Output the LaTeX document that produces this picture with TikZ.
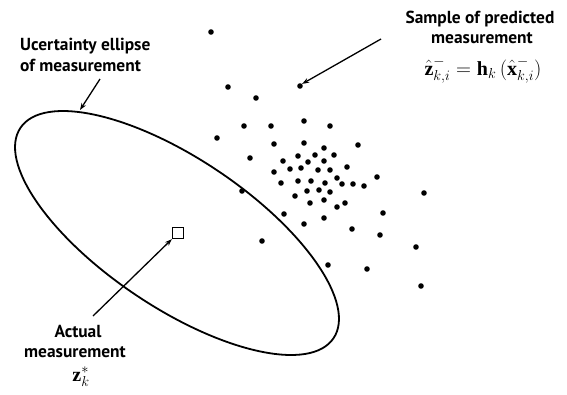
\documentclass[tikz,border=0pt]{standalone}
\usepackage{fontspec}
\newfontfamily\lblfont{PT Sans}
\newfontfamily\tmsfont{Liberation Serif}
\newcommand\tbf[1]{\mbox{\tmsfont\bfseries #1}}
\usetikzlibrary{arrows.meta}
\begin{document}
\begin{tikzpicture}[x=1pt,y=-1pt,
  dot/.style={circle,fill=black,inner sep=0pt,minimum size=5.6pt},
  lbl/.style={font=\lblfont\fontsize{17.4}{20}\selectfont\bfseries,inner sep=0pt},
  mth/.style={font=\fontsize{20}{22}\selectfont,inner sep=0pt},
  arr/.style={line width=1.3pt,-{Stealth[length=7pt,width=5pt]}},
  curve/.style={line width=1.8pt}]
\useasboundingbox (0,0) rectangle (567,394);
% ellipse
\draw[curve,rotate around={-33.9:(177,233)}] (177,233) ellipse [x radius=188.6pt,y radius=74.4pt];
\node[draw,line width=1.3pt,minimum size=11pt,inner sep=0pt] (zs) at (178,233) {};
% dots
\foreach \p [count=\i] in {(211,32),(228,87),(256,98),(244,126),(271,126),(304,121),(330,126),(217,138),(274,144),(304,143),(358,145),(250,158),(324,148),(298,156),(315,155),(334,155),(283,161),(308,162),(324,161),(274,172),(290,169),(301,168),(318,170),(330,170),(347,167),(377,177),(281,183),(298,181),(311,181),(325,183),(337,178),(342,184),(353,184),(364,186),(424,193),(242,191),(307,191),(319,190),(330,192),(295,196),(310,203),(324,200),(337,207),(345,203),(383,213),(284,214),(304,224),(324,218),(352,229),(380,235),(262,241),(416,247),(328,265),(367,269),(421,286)}
  \node[dot] (d\i) at \p {};
\node[dot] (s) at (300,86) {};
% labels
\node[lbl,anchor=base west] (u1) at (20,50) {Ucertainty ellipse};
\node[lbl,anchor=base west] (u2) at (20,71) {of measurement};
\node[lbl,anchor=base] (p1) at (480,23) {Sample of predicted};
\node[lbl,anchor=base] (p2) at (482,43) {measurement};
\node[mth,anchor=base] (p3) at (483,75) {$\hat{\tbf{z}}^{-}_{k,i}=\tbf{h}_{k}\,(\hat{\tbf{x}}^{-}_{k,i})$};
\node[lbl,anchor=base] (a1) at (78,337) {Actual};
\node[lbl,anchor=base] (a2) at (75,357) {measurement};
\node[mth,anchor=base] (a3) at (81,381) {$\tbf{z}_{k}^{*}$};
% arrows
\coordinate (et) at (80,110);
\coordinate (ut) at (100,79);
\coordinate (pt) at (381,39);
\coordinate (at) at (93,316);
\draw[arr] (ut) -- (et);
\draw[arr] (pt) -- (s.north east);
\draw[arr] (at) -- (zs.south west);
\end{tikzpicture}
\end{document}
